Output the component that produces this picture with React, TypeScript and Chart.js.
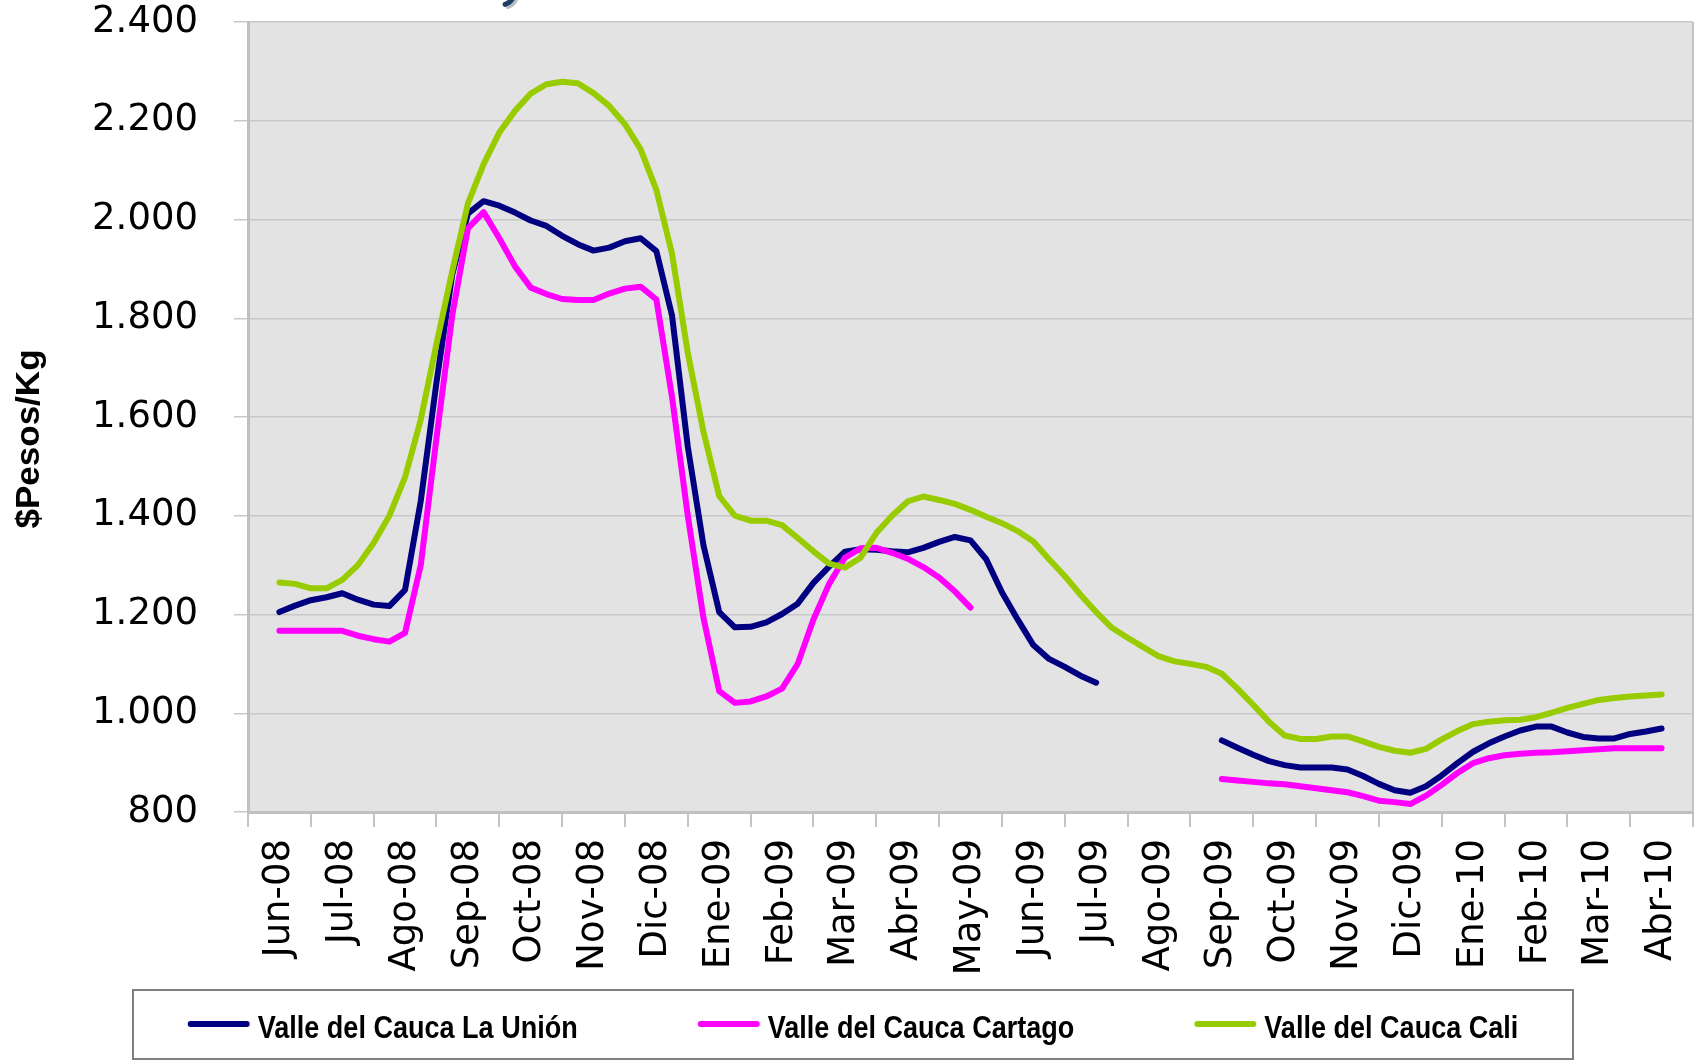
import React, { useEffect, useRef } from "react";
import { Chart, registerables } from "chart.js";

Chart.register(...registerables);

// Month labels of the category axis
const MONTHS = [
  "Jun-08", "Jul-08", "Ago-08", "Sep-08", "Oct-08", "Nov-08", "Dic-08",
  "Ene-09", "Feb-09", "Mar-09", "Abr-09", "May-09", "Jun-09", "Jul-09",
  "Ago-09", "Sep-09", "Oct-09", "Nov-09", "Dic-09", "Ene-10", "Feb-10",
  "Mar-10", "Abr-10",
];

// Samples are taken four times a month (roughly weekly)
const SAMPLES_PER_MONTH = 4;

const Y_TICKS = [800, 1000, 1200, 1400, 1600, 1800, 2000, 2200, 2400];

const SERIES_NAMES = [
  "Valle del Cauca La Unión",
  "Valle del Cauca Cartago",
  "Valle del Cauca Cali",
];

const LA_UNION: (number | null)[] = [
  1205, 1218, 1229, 1235, 1243, 1230, 1220, 1217,
  1250, 1430, 1670, 1888, 2012, 2037, 2028, 2014,
  1998, 1987, 1967, 1950, 1937, 1943, 1956, 1962,
  1936, 1805, 1540, 1340, 1205, 1174, 1175, 1184,
  1201, 1222, 1264, 1297, 1327, 1332, 1331, 1328,
  1326, 1335, 1347, 1357, 1350, 1312, 1245, 1190,
  1138, 1110, 1094, 1076, 1062, null, null, null,
  null, null, null, null, 945, 930, 916, 903,
  895, 890, 890, 890, 886, 873, 857, 844,
  839, 852, 874, 899, 922, 939, 953, 965,
  973, 973, 961, 952, 949, 949, 958, 963,
  969,
];

const CARTAGO: (number | null)[] = [
  1167, 1167, 1167, 1167, 1167, 1157, 1150, 1145,
  1163, 1300, 1557, 1805, 1982, 2015, 1962, 1905,
  1862, 1849, 1839, 1837, 1837, 1850, 1860, 1864,
  1838, 1640, 1400, 1193, 1045, 1021, 1024, 1034,
  1050, 1100, 1190, 1262, 1315, 1334, 1335, 1325,
  1313, 1296, 1275, 1247, 1214, null, null, null,
  null, null, null, null, null, null, null, null,
  null, null, null, null, 867, 864, 861, 858,
  856, 852, 848, 844, 840, 832, 823, 820,
  816, 833, 855, 879, 899, 909, 915, 918,
  920, 921, 923, 925, 927, 929, 929, 929,
  929,
];

const CALI: (number | null)[] = [
  1265, 1262, 1253, 1253, 1270, 1300, 1345, 1400,
  1478, 1595, 1748, 1895, 2032, 2112, 2176, 2220,
  2255, 2274, 2279, 2276, 2256, 2230, 2193, 2142,
  2060, 1930, 1730, 1570, 1440, 1400, 1390, 1390,
  1381, 1355, 1328, 1303, 1295, 1315, 1365, 1400,
  1429, 1439, 1432, 1424, 1412, 1398, 1385, 1369,
  1348, 1312, 1278, 1240, 1205, 1173, 1153, 1134,
  1115, 1105, 1100, 1094, 1080, 1050, 1017, 983,
  955, 948, 948, 953, 953, 943, 932, 924,
  920, 928, 947, 964, 978, 983, 986, 987,
  992, 1001, 1011, 1019, 1027, 1031, 1034, 1036,
  1038,
];

const COLORS = ["#000080", "#FF00FF", "#99CC00"];

const toPoints = (vals: (number | null)[]) =>
  vals.map((v, i) => ({ x: i / SAMPLES_PER_MONTH, y: v }));

const fmt = (v: number) =>
  String(v).replace(/\B(?=(\d{3})+(?!\d))/g, ".");

const decorPlugin = {
  id: "decor",
  beforeDraw(chart: any) {
    const { ctx, chartArea } = chart;
    ctx.save();
    ctx.fillStyle = "#E3E3E3";
    ctx.fillRect(chartArea.left, chartArea.top, chartArea.right - chartArea.left, chartArea.bottom - chartArea.top);
    ctx.restore();
  },
  afterDraw(chart: any) {
    const { ctx, chartArea } = chart;
    ctx.save();
    // right border of plot area
    ctx.strokeStyle = "#C4C4C4";
    ctx.lineWidth = 2;
    ctx.beginPath();
    ctx.moveTo(chartArea.right, chartArea.top);
    ctx.lineTo(chartArea.right, chartArea.bottom);
    ctx.stroke();

    // small logo fragment at the top edge
    ctx.lineCap = "round";
    ctx.strokeStyle = "#B8BEC6";
    ctx.lineWidth = 4;
    ctx.beginPath();
    ctx.arc(503, -6, 14, 0.15, 1.2);
    ctx.stroke();
    ctx.strokeStyle = "#1E3F66";
    ctx.lineWidth = 5;
    ctx.beginPath();
    ctx.arc(501, -8, 13, 0.1, 1.25);
    ctx.stroke();

    // Y axis title
    ctx.fillStyle = "#000";
    ctx.font = "bold 34px 'Liberation Sans', Arial, sans-serif";
    ctx.textAlign = "center";
    ctx.textBaseline = "middle";
    ctx.translate(30, 439);
    ctx.rotate(-Math.PI / 2);
    ctx.scale(1.03, 1);
    ctx.fillText("$Pesos/Kg", 0, 0);
    ctx.restore();

    // Legend box
    const box = { x: 133, y: 990, w: 1440, h: 69 };
    ctx.save();
    ctx.fillStyle = "#fff";
    ctx.fillRect(box.x, box.y, box.w, box.h);
    ctx.strokeStyle = "#7F7F7F";
    ctx.lineWidth = 2;
    ctx.strokeRect(box.x, box.y, box.w, box.h);
    ctx.font = "bold 32px 'Liberation Sans', Arial, sans-serif";
    const sx = 0.845;
    const lineLen = 56;
    const cap = 3;
    const gapText = 8;
    const gapItems = 120;
    const items = chart.data.datasets.map((d: any) => ({
      label: d.label,
      color: d.borderColor,
      tw: ctx.measureText(d.label).width * sx,
    }));
    const total = items.reduce((s: number, it: any) => s + cap * 2 + lineLen + gapText + it.tw, 0) + gapItems * (items.length - 1);
    let x = box.x + (box.w - total) / 2;
    const lineY = 1024;
    const textY = 1038;
    items.forEach((it: any) => {
      ctx.strokeStyle = it.color;
      ctx.lineWidth = 6;
      ctx.lineCap = "round";
      ctx.beginPath();
      ctx.moveTo(x + cap, lineY);
      ctx.lineTo(x + cap + lineLen, lineY);
      ctx.stroke();
      x += cap * 2 + lineLen + gapText;
      ctx.save();
      ctx.translate(x, textY);
      ctx.scale(sx, 1);
      ctx.fillStyle = "#000";
      ctx.textBaseline = "alphabetic";
      ctx.textAlign = "left";
      ctx.fillText(it.label, 0, 0);
      ctx.restore();
      x += it.tw + gapItems;
    });
    ctx.restore();
  },
};

export default function App() {
  const ref = useRef<HTMLCanvasElement | null>(null);

  useEffect(() => {
    if (!ref.current) return;
    const series = [LA_UNION, CARTAGO, CALI];
    const chart = new Chart(ref.current, {
      type: "line",
      data: {
        datasets: series.map((vals, i) => ({
          label: SERIES_NAMES[i],
          data: toPoints(vals),
          borderColor: COLORS[i],
          backgroundColor: COLORS[i],
          borderWidth: 6,
          pointRadius: 0,
          tension: 0,
          spanGaps: false,
          borderCapStyle: "round",
          borderJoinStyle: "round",
          order: 3 - i,
        })),
      },
      options: {
        animation: false,
        responsive: false,
        devicePixelRatio: 1,
        layout: { padding: { left: 0, top: 22, right: 1, bottom: 0 } },
        plugins: {
          legend: { display: false },
          tooltip: { enabled: false },
        },
        scales: {
          x: {
            type: "linear",
            min: -0.5,
            max: MONTHS.length - 0.5,
            afterBuildTicks: (scale: any) => {
              const t = [];
              for (let k = -1; k <= MONTHS.length * 2 - 1; k++) t.push({ value: k / 2 });
              scale.ticks = t;
            },
            afterFit: (scale: any) => {
              scale.height = 251;
              scale.paddingLeft = 0;
              scale.paddingRight = 0;
            },
            ticks: {
              autoSkip: false,
              minRotation: 90,
              maxRotation: 90,
              padding: 12,
              color: "#000",
              font: { family: "'DejaVu Sans'", size: 37 },
              callback: (v: any) => (Number.isInteger(v) ? MONTHS[v] : ""),
            },
            grid: {
              drawOnChartArea: false,
              drawTicks: true,
              tickLength: 15,
              lineWidth: 2,
              tickColor: (c: any) =>
                c.tick && Number.isInteger(c.tick.value) ? "rgba(0,0,0,0)" : "#C4C4C4",
            },
            border: { display: true, color: "#C0C0C0", width: 3 },
          },
          y: {
            type: "linear",
            min: Y_TICKS[0],
            max: Y_TICKS[Y_TICKS.length - 1],
            afterBuildTicks: (scale: any) => {
              scale.ticks = Y_TICKS.map((v) => ({ value: v }));
            },
            afterFit: (scale: any) => {
              scale.width = 248;
              scale.paddingTop = 0;
              scale.paddingBottom = 0;
            },
            ticks: {
              padding: 36,
              color: "#000",
              font: { family: "'DejaVu Sans'", size: 37 },
              callback: (v: any) => fmt(v),
            },
            grid: {
              color: "#C8C8C8",
              lineWidth: 1.5,
              tickLength: 14,
              tickColor: "#C8C8C8",
            },
            border: { display: true, color: "#C0C0C0", width: 3 },
          },
        },
      },
      plugins: [decorPlugin],
    } as any);
    return () => chart.destroy();
  }, []);

  return (
    <div style={{ position: "fixed", left: 0, top: 0, width: 1694, height: 1063, background: "#fff" }}>
      <canvas ref={ref} width={1694} height={1063} style={{ display: "block" }} />
    </div>
  );
}
